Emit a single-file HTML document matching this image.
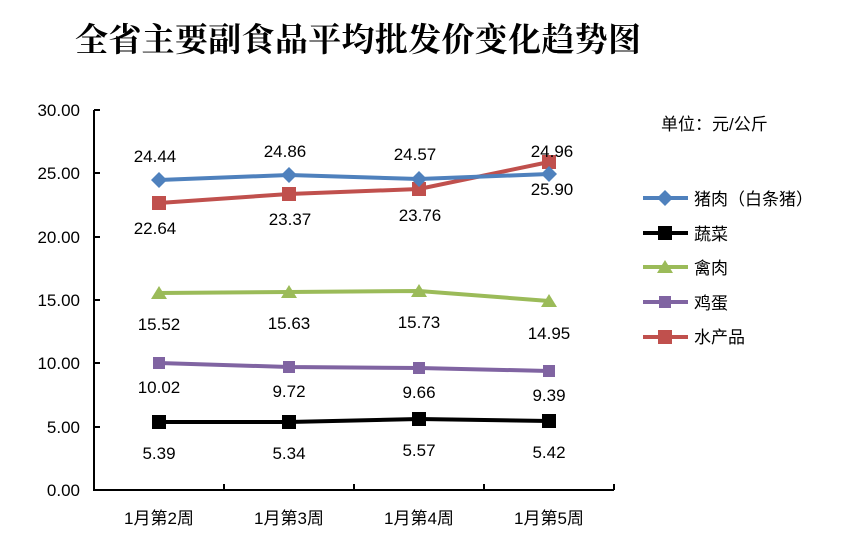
<!DOCTYPE html>
<html><head><meta charset="utf-8"><style>
body{margin:0;background:#fff}
svg{display:block;font-family:"Liberation Sans","Noto Sans CJK SC",sans-serif}
</style></head><body>
<svg width="853" height="550" viewBox="0 0 853 550">
<text x="75" y="51" font-size="33" font-weight="bold" textLength="566" font-family="'Noto Serif CJK SC','Noto Sans CJK SC',serif">全省主要副食品平均批发价变化趋势图</text>
<g stroke="#000" stroke-width="2">
<line x1="94" y1="110" x2="94" y2="491"/>
<line x1="93" y1="490" x2="614" y2="490"/>
<line x1="94" y1="110" x2="100" y2="110"/><line x1="94" y1="173" x2="100" y2="173"/>
<line x1="94" y1="237" x2="100" y2="237"/><line x1="94" y1="300" x2="100" y2="300"/>
<line x1="94" y1="363" x2="100" y2="363"/><line x1="94" y1="427" x2="100" y2="427"/>
<line x1="224" y1="490" x2="224" y2="484"/><line x1="354" y1="490" x2="354" y2="484"/>
<line x1="484" y1="490" x2="484" y2="484"/><line x1="614" y1="490" x2="614" y2="484"/>
</g>
<g font-size="17" text-anchor="end">
<text x="80" y="116">30.00</text><text x="80" y="179">25.00</text><text x="80" y="243">20.00</text>
<text x="80" y="306">15.00</text><text x="80" y="369">10.00</text><text x="80" y="433">5.00</text>
<text x="80" y="496">0.00</text>
</g>
<g font-size="17" text-anchor="middle">
<text x="159" y="524">1月第2周</text><text x="289" y="524">1月第3周</text>
<text x="419" y="524">1月第4周</text><text x="549" y="524">1月第5周</text>
</g>
<polyline points="159,203 289,194 419,189 549,162" fill="none" stroke="#c0504d" stroke-width="4"/>
<g fill="#c0504d"><rect x="152" y="196" width="14" height="14"/><rect x="282" y="187" width="14" height="14"/><rect x="412" y="182" width="14" height="14"/><rect x="542" y="155" width="14" height="14"/></g>
<polyline points="159,180 289,175 419,179 549,174" fill="none" stroke="#4f81bd" stroke-width="4"/>
<g fill="#4f81bd"><path d="M159,172l8,8-8,8-8-8z"/><path d="M289,167l8,8-8,8-8-8z"/><path d="M419,171l8,8-8,8-8-8z"/><path d="M549,166l8,8-8,8-8-8z"/></g>
<polyline points="159,293 289,292 419,291 549,301" fill="none" stroke="#9bbb59" stroke-width="4"/>
<g fill="#9bbb59"><path d="M159,286l8,13h-16z"/><path d="M289,285l8,13h-16z"/><path d="M419,284l8,13h-16z"/><path d="M549,294l8,13h-16z"/></g>
<polyline points="159,363 289,367 419,368 549,371" fill="none" stroke="#8064a2" stroke-width="4"/>
<g fill="#8064a2"><rect x="153" y="357" width="12" height="12"/><rect x="283" y="361" width="12" height="12"/><rect x="413" y="362" width="12" height="12"/><rect x="543" y="365" width="12" height="12"/></g>
<polyline points="159,422 289,422 419,419 549,421" fill="none" stroke="#000" stroke-width="4"/>
<g fill="#000"><rect x="152" y="415" width="14" height="14"/><rect x="282" y="415" width="14" height="14"/><rect x="412" y="412" width="14" height="14"/><rect x="542" y="414" width="14" height="14"/></g>
<g font-size="17" text-anchor="middle">
<text x="155" y="162">24.44</text><text x="285" y="157">24.86</text><text x="415" y="160">24.57</text><text x="552" y="157">24.96</text>
<text x="155" y="234">22.64</text><text x="290" y="225">23.37</text><text x="420" y="221">23.76</text><text x="552" y="195">25.90</text>
<text x="159" y="330">15.52</text><text x="289" y="329">15.63</text><text x="419" y="328">15.73</text><text x="549" y="339">14.95</text>
<text x="159" y="393">10.02</text><text x="289" y="397">9.72</text><text x="419" y="398">9.66</text><text x="549" y="401">9.39</text>
<text x="159" y="459">5.39</text><text x="289" y="459">5.34</text><text x="419" y="456">5.57</text><text x="549" y="458">5.42</text>
</g>
<g font-size="17">
<text x="661" y="130">单位：元/公斤</text>
<text x="694" y="205">猪肉（白条猪）</text>
<text x="694" y="240">蔬菜</text>
<text x="694" y="274">禽肉</text>
<text x="694" y="309">鸡蛋</text>
<text x="694" y="343">水产品</text>
</g>
<g stroke-width="4">
<line x1="643" y1="198" x2="688" y2="198" stroke="#4f81bd"/>
<line x1="643" y1="233" x2="688" y2="233" stroke="#000"/>
<line x1="643" y1="267" x2="688" y2="267" stroke="#9bbb59"/>
<line x1="643" y1="302" x2="688" y2="302" stroke="#8064a2"/>
<line x1="643" y1="337" x2="688" y2="337" stroke="#c0504d"/>
</g>
<path d="M665,190l8,8-8,8-8-8z" fill="#4f81bd"/>
<rect x="658" y="226" width="14" height="14" fill="#000"/>
<path d="M665,260l8,13h-16z" fill="#9bbb59"/>
<rect x="659" y="296" width="12" height="12" fill="#8064a2"/>
<rect x="658" y="330" width="14" height="14" fill="#c0504d"/>
</svg>
</body></html>
